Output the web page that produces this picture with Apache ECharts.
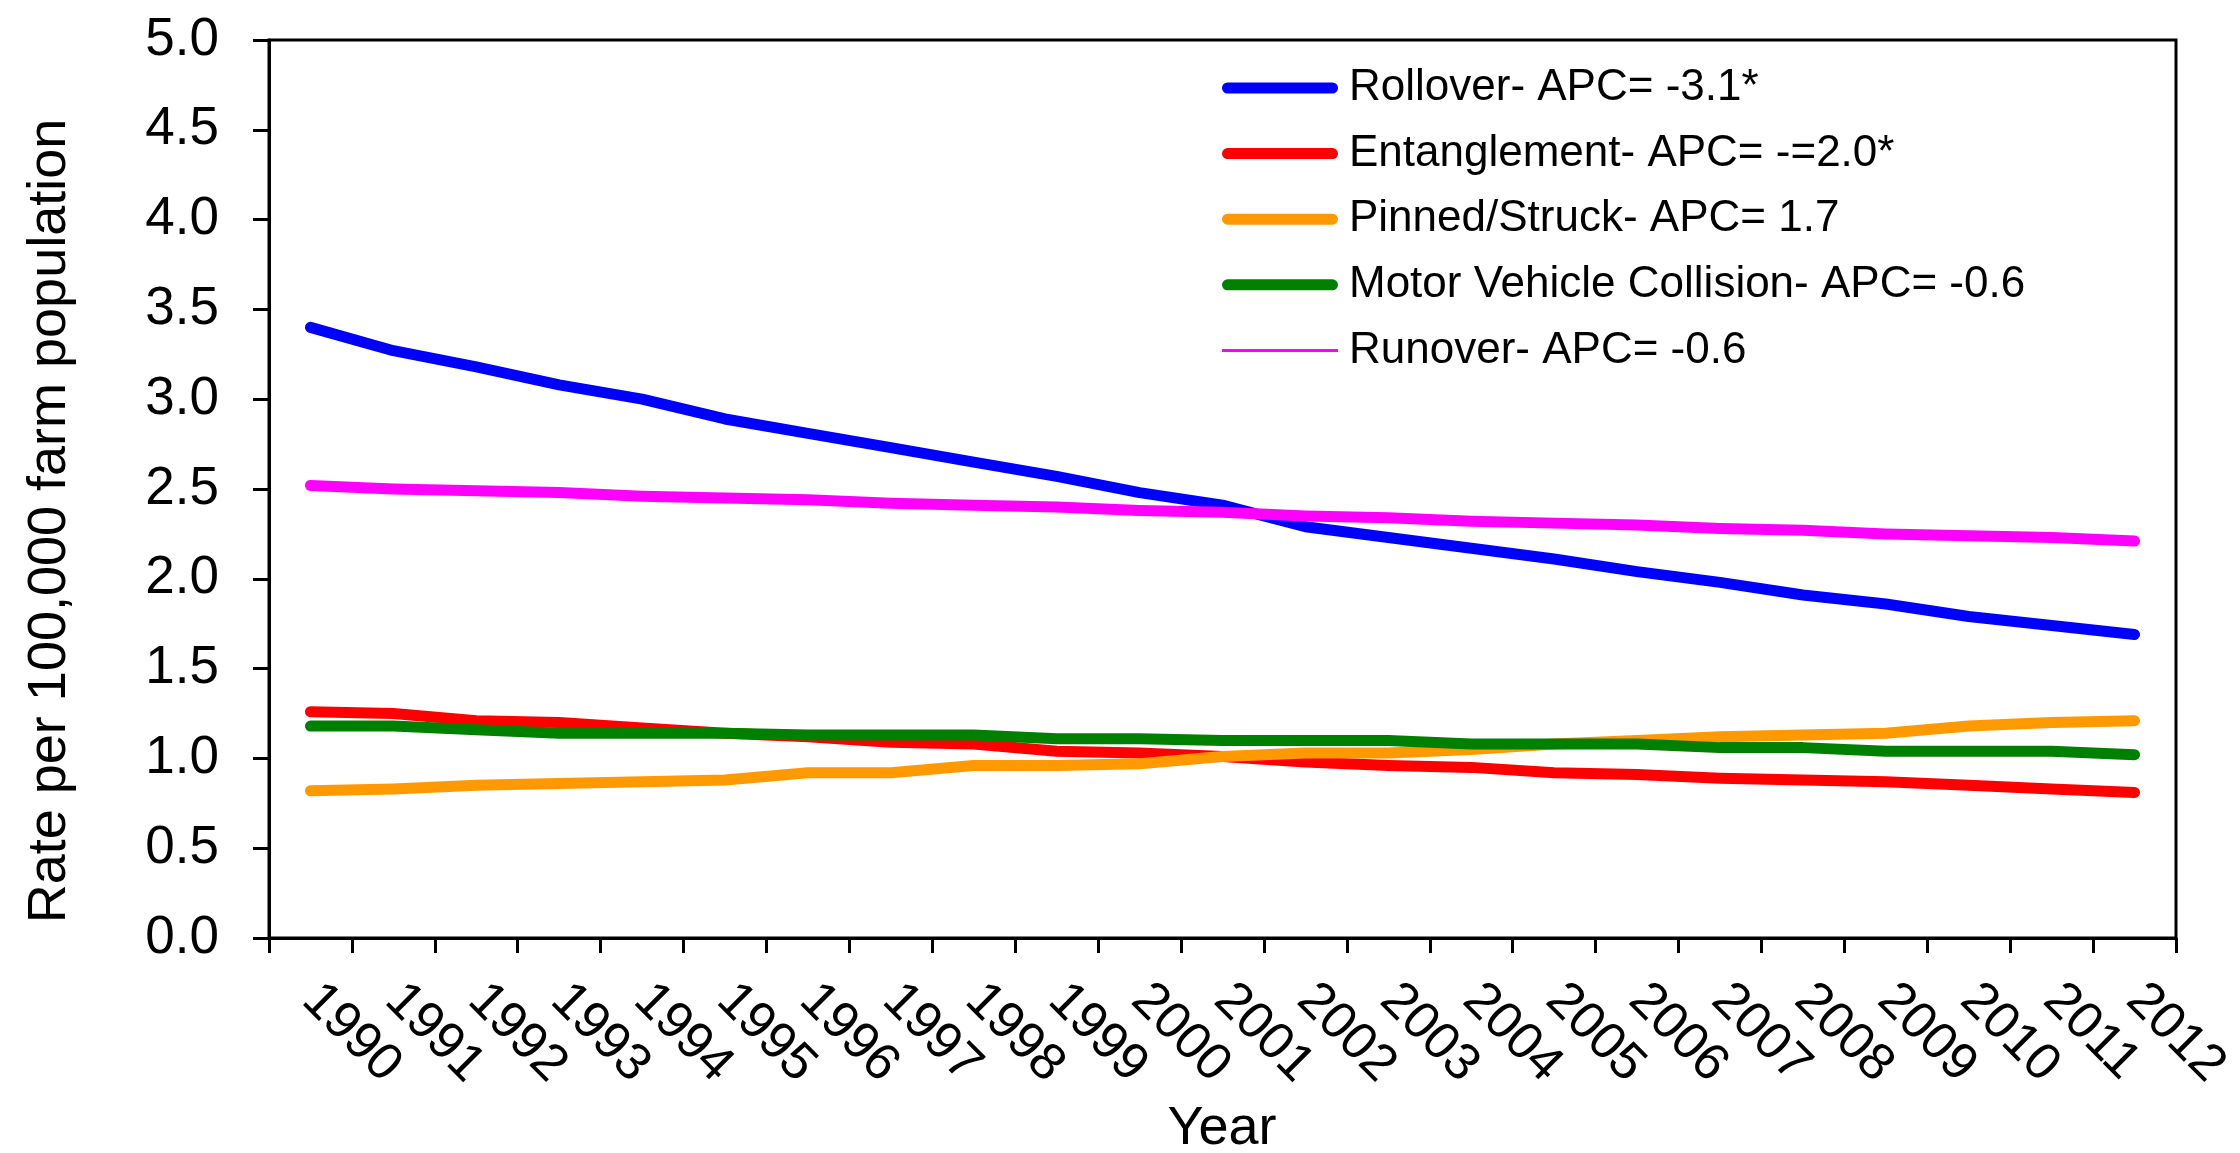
<!DOCTYPE html>
<html>
<head>
<meta charset="utf-8">
<script src="https://cdn.jsdelivr.net/npm/echarts@6/dist/echarts.min.js"></script>
<style>
  html, body { margin: 0; padding: 0; background: #fff; }
  #chart { width: 2240px; height: 1153px; }
</style>
</head>
<body>
<div id="chart"></div>
<script>
const years = ['1990','1991','1992','1993','1994','1995','1996','1997','1998','1999','2000','2001','2002','2003','2004','2005','2006','2007','2008','2009','2010','2011','2012'];
const seriesNames = [
  'Rollover- APC= -3.1*',
  'Entanglement- APC= -=2.0*',
  'Pinned/Struck- APC= 1.7',
  'Motor Vehicle Collision- APC= -0.6',
  'Runover- APC= -0.6'
];
const rollover     = [3.40, 3.27, 3.18, 3.08, 3.00, 2.89, 2.81, 2.73, 2.65, 2.57, 2.48, 2.41, 2.29, 2.23, 2.17, 2.11, 2.04, 1.98, 1.91, 1.86, 1.79, 1.74, 1.69];
const entanglement = [1.26, 1.25, 1.21, 1.20, 1.17, 1.14, 1.12, 1.09, 1.08, 1.04, 1.03, 1.01, 0.98, 0.96, 0.95, 0.92, 0.91, 0.89, 0.88, 0.87, 0.85, 0.83, 0.81];
const pinned       = [0.82, 0.83, 0.85, 0.86, 0.87, 0.88, 0.92, 0.92, 0.96, 0.96, 0.97, 1.01, 1.03, 1.03, 1.05, 1.08, 1.10, 1.12, 1.13, 1.14, 1.18, 1.20, 1.21];
const motor        = [1.18, 1.18, 1.16, 1.14, 1.14, 1.14, 1.13, 1.13, 1.13, 1.11, 1.11, 1.10, 1.10, 1.10, 1.08, 1.08, 1.08, 1.06, 1.06, 1.04, 1.04, 1.04, 1.02];
const runover      = [2.52, 2.50, 2.49, 2.48, 2.46, 2.45, 2.44, 2.42, 2.41, 2.40, 2.38, 2.37, 2.35, 2.34, 2.32, 2.31, 2.30, 2.28, 2.27, 2.25, 2.24, 2.23, 2.21];
const colors = ['#0000FF', '#FF0000', '#FF9900', '#008000', '#FF00FF'];
const yTitle = 'Rate per 100,000 farm population';
const xTitle = 'Year';

const FONT = "'Liberation Sans', Arial, Helvetica, sans-serif";
const allData = [rollover, entanglement, pinned, motor, runover];

const pill = 'path://M5.5,0H110.5A5.5,5.5 0 0 1 110.5,11H5.5A5.5,5.5 0 0 1 5.5,0Z';
const thin = 'path://M0,0H116V3H0Z';

const chart = echarts.init(document.getElementById('chart'), null, { renderer: 'canvas' });
chart.setOption({
  backgroundColor: '#ffffff',
  animation: false,
  grid: {
    left: 269, right: 64, top: 40, bottom: 215,
    show: true, borderColor: '#000', borderWidth: 3, backgroundColor: 'transparent'
  },
  legend: {
    orient: 'vertical',
    left: 1222, top: 66,
    padding: 0,
    itemWidth: 116, itemHeight: 11, itemGap: 21.6,
    symbolKeepAspect: true,
    selectedMode: false,
    textStyle: { fontFamily: FONT, fontSize: 44, color: '#000', lineHeight: 44, padding: [0, 0, 0, 6] },
    data: seriesNames.map((n, i) => ({ name: n, icon: i === 4 ? thin : pill, itemStyle: { color: colors[i] } }))
  },
  xAxis: {
    type: 'category',
    data: years,
    boundaryGap: true,
    axisLine: { show: true, lineStyle: { color: '#000', width: 3 } },
    axisTick: { show: true, alignWithLabel: false, interval: 0, length: 15, lineStyle: { color: '#000', width: 3 } },
    axisLabel: { interval: 0, rotate: -45, margin: 54, fontFamily: FONT, fontSize: 52, color: '#000' },
    splitLine: { show: false }
  },
  yAxis: {
    type: 'value',
    min: 0, max: 5, interval: 0.5,
    axisLine: { show: true, lineStyle: { color: '#000', width: 3 } },
    axisTick: { show: true, length: 16, lineStyle: { color: '#000', width: 3 } },
    axisLabel: { margin: 50, fontFamily: FONT, fontSize: 53, color: '#000', formatter: v => v.toFixed(1) },
    splitLine: { show: false }
  },
  graphic: [
    { type: 'text', x: 50, y: 521, rotation: Math.PI / 2,
      style: { text: yTitle, fontFamily: FONT, fontSize: 54, fill: '#000', textAlign: 'center', textVerticalAlign: 'middle' } },
    { type: 'text', x: 1222, y: 1129,
      style: { text: xTitle, fontFamily: FONT, fontSize: 54, fill: '#000', textAlign: 'center', textVerticalAlign: 'middle' } }
  ],
  series: seriesNames.map((n, i) => ({
    name: n,
    type: 'line',
    data: allData[i],
    symbol: 'none',
    showSymbol: false,
    color: colors[i],
    lineStyle: { color: colors[i], width: 11, cap: 'round', join: 'round' },
    itemStyle: { color: colors[i] }
  }))
});
</script>
</body>
</html>
